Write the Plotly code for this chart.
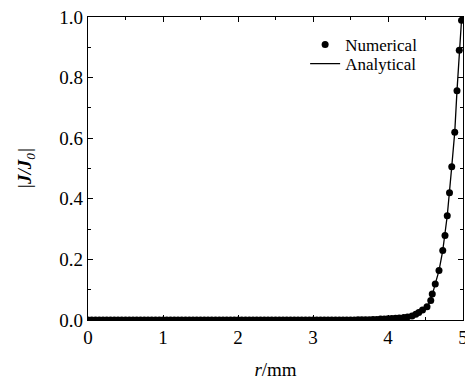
import plotly.graph_objects as go

# Numerical solution: radius (mm) and normalised current density
r_num = [0.00, 0.05, 0.10, 0.15, 0.20, 0.25, 0.30, 0.35, 0.40, 0.45,
         0.50, 0.55, 0.60, 0.65, 0.70, 0.75, 0.80, 0.85, 0.90, 0.95,
         1.00, 1.05, 1.10, 1.15, 1.20, 1.25, 1.30, 1.35, 1.40, 1.45,
         1.50, 1.55, 1.60, 1.65, 1.70, 1.75, 1.80, 1.85, 1.90, 1.95,
         2.00, 2.05, 2.10, 2.15, 2.20, 2.25, 2.30, 2.35, 2.40, 2.45,
         2.50, 2.55, 2.60, 2.65, 2.70, 2.75, 2.80, 2.85, 2.90, 2.95,
         3.00, 3.05, 3.10, 3.15, 3.20, 3.25, 3.30, 3.35, 3.40, 3.45,
         3.50, 3.55, 3.60, 3.65, 3.70, 3.75, 3.80, 3.85, 3.90, 3.95,
         4.00, 4.05, 4.10, 4.15, 4.21, 4.26, 4.32, 4.37, 4.41, 4.46,
         4.52, 4.57, 4.59, 4.63, 4.68, 4.73, 4.76, 4.79, 4.82, 4.85,
         4.89, 4.92, 4.95, 4.98]
j_num = [0.000, 0.000, 0.000, 0.000, 0.000, 0.000, 0.000, 0.000, 0.000, 0.000,
         0.000, 0.000, 0.000, 0.000, 0.000, 0.000, 0.000, 0.000, 0.000, 0.000,
         0.000, 0.000, 0.000, 0.000, 0.000, 0.000, 0.000, 0.000, 0.000, 0.000,
         0.000, 0.000, 0.000, 0.000, 0.000, 0.000, 0.000, 0.000, 0.000, 0.000,
         0.000, 0.000, 0.000, 0.000, 0.000, 0.000, 0.000, 0.000, 0.000, 0.000,
         0.000, 0.000, 0.000, 0.000, 0.000, 0.000, 0.000, 0.000, 0.000, 0.000,
         0.000, 0.000, 0.000, 0.000, 0.000, 0.000, 0.000, 0.000, 0.000, 0.000,
         0.000, 0.000, 0.001, 0.001, 0.001, 0.001, 0.002, 0.002, 0.003, 0.003,
         0.004, 0.005, 0.006, 0.007, 0.008, 0.010, 0.013, 0.019, 0.025, 0.033,
         0.044, 0.064, 0.086, 0.119, 0.163, 0.229, 0.279, 0.344, 0.420, 0.506,
         0.620, 0.757, 0.890, 0.989]

# Analytical solution
r_ana = [0.00, 1.00, 2.00, 3.00, 3.50, 3.80, 4.00, 4.10, 4.21, 4.32, 4.41,
         4.52, 4.57, 4.63, 4.68, 4.73, 4.79, 4.85, 4.89, 4.92, 4.95, 4.98, 5.00]
j_ana = [0.000, 0.000, 0.000, 0.000, 0.000, 0.002, 0.004, 0.006, 0.008, 0.013, 0.025,
         0.044, 0.064, 0.119, 0.163, 0.229, 0.344, 0.506, 0.620, 0.757, 0.890, 0.989, 1.000]

x_ticks = [0, 1, 2, 3, 4, 5]
y_ticks = [0.0, 0.2, 0.4, 0.6, 0.8, 1.0]

FONT = "Liberation Serif, Times New Roman, serif"

fig = go.Figure()
fig.add_trace(go.Scatter(
    x=r_num, y=j_num, mode="markers", name="Numerical",
    marker=dict(color="black", size=7), legend="legend",
))
fig.add_trace(go.Scatter(
    x=r_ana, y=j_ana, mode="lines", name="Analytical",
    line=dict(color="black", width=1.3), legend="legend2",
))

axis_common = dict(
    showline=True, linecolor="black", linewidth=1.3, mirror="ticks",
    ticks="inside", ticklen=5, tickwidth=1, tickcolor="black",
    showgrid=False, zeroline=False, automargin=False,
    ticklabeloverflow="allow",
    tickfont=dict(family=FONT, size=19, color="black"),
)

fig.update_xaxes(
    range=[0, 5], tickvals=x_ticks, ticktext=[str(v) for v in x_ticks],
    minor=dict(ticks="inside", dtick=0.5, ticklen=3, tickcolor="black", showgrid=False),
    title=dict(text="<i>r</i>/mm", font=dict(family=FONT, size=19, color="black"), standoff=15),
    **axis_common,
)
fig.update_yaxes(
    range=[0, 1], tickvals=y_ticks, ticktext=[f"{v:.1f}" for v in y_ticks],
    minor=dict(ticks="inside", dtick=0.1, ticklen=3, tickcolor="black", showgrid=False),
    title=dict(text="<i>|<b>J</b>/<b>J</b><sub>0</sub>|</i>",
               font=dict(family=FONT, size=19, color="black"), standoff=22),
    **axis_common,
)

legend_common = dict(
    xanchor="left", yanchor="top",
    bgcolor="rgba(0,0,0,0)", borderwidth=0,
    font=dict(family=FONT, size=17, color="black"),
    itemwidth=30,
)

fig.update_layout(
    width=465, height=380,
    margin=dict(l=88, r=2, t=17, b=60),
    paper_bgcolor="white", plot_bgcolor="white",
    showlegend=True,
    legend=dict(x=0.579, y=0.967, **legend_common),
    legend2=dict(x=0.579, y=0.904, **legend_common),
)

fig.write_html("out.html",
               config={"displayModeBar": False},
               post_script="document.body.style.margin='0';document.body.style.overflow='hidden';")
